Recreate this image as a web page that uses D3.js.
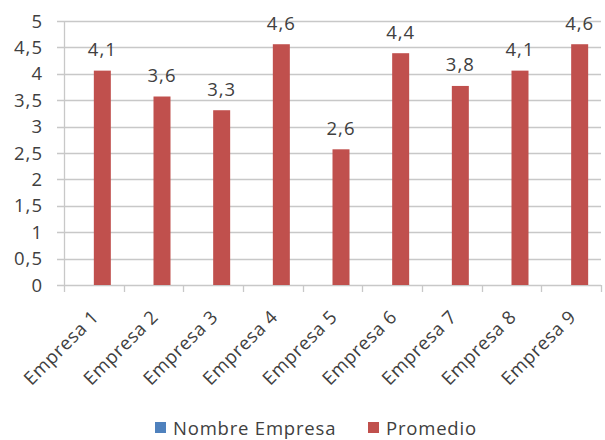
<!DOCTYPE html>
<html>
<head>
<meta charset="utf-8">
<script src="https://cdn.jsdelivr.net/npm/d3@7"></script>
<style>
  html, body { margin: 0; padding: 0; background: #fff; }
  svg { display: block; }
  text { font-family: "Open Sans", sans-serif; fill: #404040; }
</style>
</head>
<body>
<svg id="chart" width="605" height="440"></svg>
<script>
// ---- data ----
const categories = ["Empresa 1", "Empresa 2", "Empresa 3", "Empresa 4", "Empresa 5", "Empresa 6", "Empresa 7", "Empresa 8", "Empresa 9"];
const seriesNames = ["Nombre Empresa", "Promedio"];
const nombreEmpresaValues = [null, null, null, null, null, null, null, null, null];
const promedioValues = [4.06, 3.57, 3.31, 4.56, 2.57, 4.39, 3.77, 4.06, 4.56];
const yTicks = [0, 0.5, 1, 1.5, 2, 2.5, 3, 3.5, 4, 4.5, 5];
const seriesColors = ["#4F81BD", "#C0504D"];

// ---- layout ----
const svg = d3.select("#chart");
const plotLeft = 64, plotRight = 601, plotTop = 21, plotBottom = 285;
const fmtTick = v => String(v).replace(".", ",");
const fmtLabel = v => d3.format(".1f")(v).replace(".", ",");

const x = d3.scaleBand().domain(categories).range([plotLeft, plotRight]).paddingInner(0).paddingOuter(0);
const xs = d3.scaleBand().domain(seriesNames).range([0, x.bandwidth()]).paddingInner(0).paddingOuter(0.755);
const y = d3.scaleLinear().domain([0, 5]).range([plotBottom, plotTop]);

const gridColor = "#c8c8c8";

// gridlines
svg.append("g").selectAll("line").data(yTicks).join("line")
  .attr("x1", plotLeft - 7).attr("x2", plotRight)
  .attr("y1", d => Math.round(y(d)) + 0.5).attr("y2", d => Math.round(y(d)) + 0.5)
  .attr("stroke", gridColor).attr("stroke-width", 1.3);

// y axis line
svg.append("line")
  .attr("x1", plotLeft + 0.5).attr("x2", plotLeft + 0.5)
  .attr("y1", plotTop).attr("y2", plotBottom + 7)
  .attr("stroke", gridColor).attr("stroke-width", 1.3);

// x ticks
const xTickPos = categories.map(c => x(c) + x.bandwidth());
svg.append("g").selectAll("line").data(xTickPos).join("line")
  .attr("x1", d => Math.round(d) + 0.5).attr("x2", d => Math.round(d) + 0.5)
  .attr("y1", plotBottom).attr("y2", plotBottom + 7)
  .attr("stroke", gridColor).attr("stroke-width", 1.3);

// y labels
svg.append("g").selectAll("text").data(yTicks).join("text")
  .attr("x", 43).attr("y", d => y(d))
  .attr("dy", "0.36em")
  .attr("text-anchor", "end")
  .style("font-size", "18.5px")
  .style("letter-spacing", "1px")
  .text(d => fmtTick(d));

// bars (Promedio series; Nombre Empresa has no values)
const seriesData = [nombreEmpresaValues, promedioValues];
seriesData.forEach((vals, si) => {
  const g = svg.append("g");
  const pts = categories.map((c, i) => ({ c, v: vals[i] })).filter(d => d.v != null);
  g.selectAll("rect").data(pts).join("rect")
    .attr("x", d => x(d.c) + xs(seriesNames[si]))
    .attr("y", d => y(d.v))
    .attr("width", xs.bandwidth())
    .attr("height", d => y(0) - y(d.v))
    .attr("fill", seriesColors[si]);
  g.selectAll("text").data(pts).join("text")
    .attr("x", d => x(d.c) + xs(seriesNames[si]) + xs.bandwidth() / 2)
    .attr("y", d => y(d.v) - 14.5)
    .attr("text-anchor", "middle")
    .style("font-size", "18.5px")
    .style("letter-spacing", "1px")
    .text(d => fmtLabel(d.v));
});

// x labels rotated
svg.append("g").selectAll("text").data(categories).join("text")
  .attr("transform", d => `translate(${x(d) + x.bandwidth() / 2 + 6},${plotBottom + 33}) rotate(-45)`)
  .attr("text-anchor", "end")
  .style("font-size", "18.5px")
  .style("letter-spacing", "0.6px")
  .text(d => d);

// legend
const legendItems = [
  { name: seriesNames[0], color: seriesColors[0], x: 155 },
  { name: seriesNames[1], color: seriesColors[1], x: 368 }
];
const lg = svg.append("g");
legendItems.forEach(it => {
  lg.append("rect").attr("x", it.x).attr("y", 422).attr("width", 11).attr("height", 11).attr("fill", it.color);
  lg.append("text").attr("x", it.x + 18).attr("y", 435)
    .style("font-size", "18.5px")
    .style("letter-spacing", "0.8px")
    .text(it.name);
});
</script>
</body>
</html>
